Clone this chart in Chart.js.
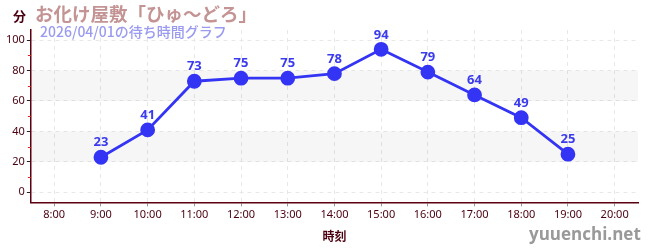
<!DOCTYPE html>
<html>
<head>
<meta charset="utf-8">
<script src="https://cdn.jsdelivr.net/npm/chart.js@4"></script>
<style>
  body { margin: 0; background: #fff; }
  #wrap { position: relative; width: 650px; height: 250px; }
  .t { position: absolute; white-space: nowrap; font-family: "Noto Sans CJK JP", sans-serif; }
</style>
</head>
<body>
<div id="wrap">
  <canvas id="waitChart" width="650" height="250"></canvas>
  <div class="t" style="left:13px;top:6px;font-size:13px;font-weight:bold;color:#4a0010;">分</div>
  <div class="t" style="left:35px;top:0px;font-size:18.5px;font-weight:bold;color:#c49494;">お化け屋敷「ひゅ〜どろ」</div>
  <div class="t" style="left:40px;top:21px;font-size:14px;font-weight:500;color:#9a9af0;">2026/04/01の待ち時間グラフ</div>
  <div class="t" style="left:529px;top:222px;font-size:17px;font-weight:bold;color:#999;font-family:'Open Sans',sans-serif;">yuuenchi.net</div>
</div>
<script>
const hours = ['8:00', '9:00', '10:00', '11:00', '12:00', '13:00', '14:00', '15:00', '16:00', '17:00', '18:00', '19:00', '20:00'];
const waitMinutes = [null, 23, 41, 73, 75, 75, 78, 94, 79, 64, 49, 25, null];
const bands = [[20, 40], [60, 80]];

const bandPlugin = {
  id: 'bands',
  beforeDatasetsDraw(chart) {
    const { ctx, chartArea, scales } = chart;
    ctx.save();
    ctx.fillStyle = 'rgba(0,0,0,0.035)';
    bands.forEach(([lo, hi]) => {
      const top = scales.y.getPixelForValue(hi);
      const bottom = scales.y.getPixelForValue(lo);
      ctx.fillRect(chartArea.left, top, chartArea.right - chartArea.left, bottom - top);
    });
    ctx.restore();
  }
};

const labelPlugin = {
  id: 'pointLabels',
  afterDatasetsDraw(chart) {
    const { ctx } = chart;
    const meta = chart.getDatasetMeta(0);
    ctx.save();
    ctx.font = 'bold 13px "Noto Sans", sans-serif';
    ctx.fillStyle = '#3a3aee';
    ctx.textAlign = 'center';
    ctx.textBaseline = 'bottom';
    meta.data.forEach((pt, i) => {
      if (waitMinutes[i] == null) return;
      ctx.fillText(waitMinutes[i], pt.x, pt.y - 8);
    });
    ctx.restore();
  }
};

const minorTickPlugin = {
  id: 'minorTicks',
  afterDraw(chart) {
    const { ctx, scales, chartArea } = chart;
    ctx.save();
    ctx.strokeStyle = '#dd2222';
    ctx.lineWidth = 1;
    for (let v = 10; v <= 90; v += 20) {
      const y = Math.round(scales.y.getPixelForValue(v)) + 0.5;
      ctx.beginPath();
      ctx.moveTo(chartArea.left - 3, y);
      ctx.lineTo(chartArea.left, y);
      ctx.stroke();
    }
    ctx.restore();
  }
};

new Chart(document.getElementById('waitChart'), {
  type: 'line',
  data: {
    labels: hours,
    datasets: [{
      data: waitMinutes,
      borderColor: '#3434f4',
      backgroundColor: '#3434f4',
      borderWidth: 2.8,
      pointRadius: 6,
      pointHoverRadius: 6,
      tension: 0
    }]
  },
  options: {
    responsive: false,
    animation: false,
    layout: { padding: { top: 30, right: 12, left: 4, bottom: 2 } },
    plugins: {
      legend: { display: false },
      tooltip: { enabled: false }
    },
    scales: {
      x: {
        offset: true,
        grid: {
          offset: false,
          color: '#e8e8e8',
          tickColor: '#999999',
          tickLength: 4,
          drawTicks: true
        },
        border: { color: '#5a0010', width: 1.5, dash: [4, 4] },
        ticks: {
          color: '#4a0010',
          font: { family: '"Liberation Sans Narrow", "Noto Sans", sans-serif', size: 11 },
          padding: 2,
          maxRotation: 0
        },
        title: {
          display: true,
          text: '時刻',
          color: '#4a0010',
          font: { family: '"Noto Sans CJK JP", sans-serif', size: 12, weight: 'bold' },
          padding: { top: 6 }
        }
      },
      y: {
        min: -6.7,
        max: 106.7,
        afterBuildTicks(axis) {
          axis.ticks = [0, 20, 40, 60, 80, 100].map(v => ({ value: v }));
        },
        grid: {
          color: '#e8e8e8',
          tickColor: '#222222',
          tickLength: 4
        },
        border: { color: '#5a0010', width: 1.5, dash: [4, 4] },
        ticks: {
          color: '#4a0010',
          font: { family: '"Noto Sans", sans-serif', size: 11 },
          padding: 2
        }
      }
    }
  },
  plugins: [bandPlugin, labelPlugin, minorTickPlugin]
});
</script>
</body>
</html>
